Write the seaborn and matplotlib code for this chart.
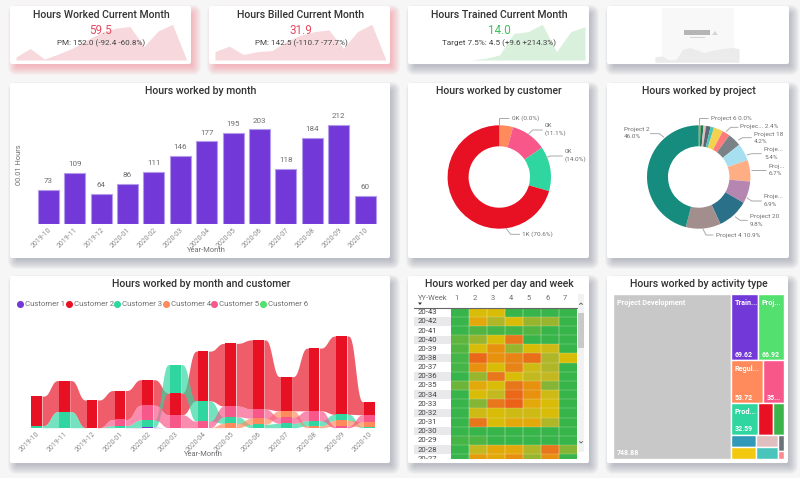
import numpy as np
import pandas as pd
import matplotlib
matplotlib.use('Agg')
import matplotlib.pyplot as plt
from matplotlib.colors import LinearSegmentedColormap
from matplotlib.patches import FancyBboxPatch, Rectangle, Polygon
import seaborn as sns

# data
months = ['2019-10', '2019-11', '2019-12', '2020-01', '2020-02', '2020-03', '2020-04',
          '2020-05', '2020-06', '2020-07', '2020-08', '2020-09', '2020-10']
hours_month = [73, 109, 64, 86, 111, 146, 177, 195, 203, 118, 184, 212, 60]

billed_spark = [58, 75, 49, 58, 61, 89, 109, 120, 125, 68, 120, 142.5, 31.9]
trained_spark = [0, 0.7, 2.1, 11.2, 11.9, 15, 3.5, 11.9, 14.0]
redacted_spark = [17, 19, 7, 9, 40, 44, 37, 29, 35, 39, 42, 45, 41]

customers = ['Customer 1', 'Customer 2', 'Customer 3', 'Customer 4', 'Customer 5', 'Customer 6']
customer_colors = ['#7239D8', '#E81123', '#2FD6A0', '#FF8B5C', '#F8578A', '#54E06F']
customer_1 = [0, 0, 0, 0, 1, 0, 0, 0, 0, 0, 0, 0, 0]
customer_2 = [68, 72, 64, 67, 59, 50, 115, 145, 160, 79, 145, 181, 30]
customer_3 = [5, 37, 0, 5, 17, 66, 47, 15, 8, 10, 12, 14, 2]
customer_4 = [0, 0, 0, 0, 0, 0, 0, 10, 14, 15, 4, 13, 12]
customer_5 = [0, 0, 0, 14, 34, 30, 15, 25, 21, 14, 23, 4, 16]
customer_6 = [0, 0, 0, 0, 0, 0, 0, 0, 0, 0, 0, 0, 0]

donut_customer_values = [4.3, 11.1, 14.0, 70.6]
donut_customer_colors = ['#FF8B5C', '#F8578A', '#2FD6A0', '#E81123']

donut_project_values = [0.6, 0.9, 0.8, 1.4, 1.1, 2.9, 2.4, 4.2, 5.4, 6.7, 6.9, 9.8, 10.9, 46.0]
donut_project_colors = ['#C8A80A', '#1A7A5A', '#DFBFBF', '#5B6670', '#4AC5BB', '#F2D24E', '#FF7B7B',
                        '#7A8288', '#A5DFF0', '#FFAD85', '#B587B0', '#2A7089', '#A38E8E', '#168C7E']

weeks = ['20-43', '20-42', '20-41', '20-40', '20-39', '20-38', '20-37', '20-36', '20-35',
         '20-34', '20-33', '20-32', '20-31', '20-30', '20-29', '20-28', '20-27']
days = ['1', '2', '3', '4', '5', '6', '7']
week_hours = [[0, 5, 5, 0, 0, 0, 0],
              [0, 6, 3.5, 5, 3, 3, 0],
              [0, 1, 0.5, 0.5, 1, 0, 0],
              [1.5, 3, 5, 8, 0, 0, 0],
              [1, 5, 7, 3, 5, 4.5, 0],
              [0.5, 9, 7, 7.5, 8.5, 3.5, 5],
              [0.5, 7, 5, 7.5, 4.5, 3.5, 0],
              [0, 3, 8, 5, 4, 4, 0],
              [2, 6, 5, 8, 7, 2.5, 0],
              [0, 5, 4, 9, 7, 4.5, 0],
              [0, 2.5, 8, 9.5, 6, 5, 0],
              [0, 4.5, 5, 4.5, 4.5, 5, 0],
              [0, 8, 5, 6, 6, 3.5, 0],
              [0, 0, 0, 0, 0, 0, 0],
              [0.5, 0.8, 0, 0, 0, 0, 0],
              [0, 4, 6, 6, 3.5, 8, 2.5],
              [0, 6.5, 6, 7, 3, 7, 0]]

tree_names = ['Project Development', 'Train...', 'Proj...', 'Regul...', '', 'Prod...', '', '', '', '', '', '', '', '']
tree_labels = ['748.88', '69.62', '66.92', '53.72', '35...', '32.59', '', '', '', '', '', '', '', '']
tree_values = [748.88, 69.62, 66.92, 53.72, 35.0, 32.59, 18.2, 13.5, 11.6, 11.4, 10.5, 10.0, 4.0, 1.8]
tree_colors = ['#C8C8C8', '#7239D8', '#54E06F', '#FF8B5C', '#F8578A', '#2FD6A0', '#E81123', '#3BB54A',
               '#3399B8', '#F2C811', '#DFBFBF', '#4AC5BB', '#6B7278', '#FD8B8F']
# treemap structure: rows of columns of item indexes, right of the big first block
tree_rows = [[[1], [2]], [[3], [4]], [[5], [6], [7]], [[8, 9], [10, 11], [12, 13]]]

W, H = 800, 478
FONT = 'Roboto'
plt.rcParams['font.family'] = FONT
TITLE = '#333333'
GREY = '#6E6E6E'
TITLE_SIZE = 7.6


def px_axes(x0, y0, x1, y1, z=2):
    a = fig.add_axes([x0 / W, 1 - y1 / H, (x1 - x0) / W, (y1 - y0) / H], zorder=z)
    a.patch.set_alpha(0)
    return a


def card(x0, y0, x1, y1, shadow='#7A8090'):
    # stacked translucent boxes stand in for the blurred shadow
    for g in np.arange(-3, 7):
        bg.add_patch(FancyBboxPatch((x0 + 4 - g, y0 + 5 - g), x1 - x0 + 2 * g, y1 - y0 + 2 * g,
                                    boxstyle='round,pad=0,rounding_size=%d' % max(g + 3, 1),
                                    fc=shadow, ec='none', alpha=0.055))
    bg.add_patch(FancyBboxPatch((x0, y0), x1 - x0, y1 - y0, boxstyle='round,pad=0,rounding_size=2',
                                fc='white', ec='none'))


def spark(x0, y0, x1, y1, values, color, bottom, top):
    a = px_axes(x0, y0, x1, y1)
    xs = np.arange(len(values))
    a.fill_between(xs, values, bottom, color=color, lw=0)
    a.set_xlim(0, len(values) - 1)
    a.set_ylim(bottom, top)
    a.axis('off')


def callout(base, pts):
    ov.plot([base + p[0] / 3 for p in pts], [75 + p[1] / 3 for p in pts], color='#AAAAAA', lw=0.7,
            solid_capstyle='butt')


def donut(cx, cy, R, values, colors, wedge=0.406):
    a = px_axes(cx - R, cy - R, cx + R, cy + R)
    a.pie(values, colors=colors, startangle=90, counterclock=False, radius=1,
          wedgeprops={'width': wedge, 'linewidth': 0})
    a.set_xlim(-1, 1)
    a.set_ylim(-1, 1)


def title(x, y, s):
    ov.text(x, y, s, ha='center', va='center', fontsize=TITLE_SIZE, color=TITLE, fontweight='medium')


fig = plt.figure(figsize=(W / 100, H / 100), dpi=100, facecolor='#F6F6F6')
sns.set_style('white')
plt.rcParams['font.family'] = FONT

bg = px_axes(0, 0, W, H, z=0)
bg.set_xlim(0, W)
bg.set_ylim(H, 0)
bg.axis('off')
ov = px_axes(0, 0, W, H, z=5)
ov.set_xlim(0, W)
ov.set_ylim(H, 0)
ov.axis('off')

for x0, x1, sh in [(10, 191, '#F2707F'), (209, 390, '#F2707F'), (408, 589, '#7A8090'), (607, 789, '#7A8090')]:
    card(x0, 6, x1, 64, sh)
for x0, x1 in [(10, 390), (408, 589), (607, 789)]:
    card(x0, 83, x1, 258)
for x0, x1 in [(10, 390), (408, 589), (607, 788)]:
    card(x0, 276, x1, 463)

# blanked out fourth card
bg.add_patch(Rectangle((662, 8), 72, 54, fc='#F8F8F8', ec='none', zorder=5))
ov.add_patch(Rectangle((684, 30), 26, 5, fc='#B5B5B5', ec='none'))
ov.add_patch(Polygon([(712, 35), (718, 35), (715, 31)], fc='#D5D5D5', ec='none'))
ov.add_patch(Rectangle((690, 37), 15, 1.2, fc='#D5D5D5', ec='none'))

# KPI row
spark(16, 24.3, 186.7, 60, hours_month, '#F7D9DD', 60, 212)
spark(215, 24.3, 386, 60, billed_spark, '#F7D9DD', 31.9, 142.5)
spark(471, 24.3, 585, 60, trained_spark, '#D9F0DC', 0, 15)
spark(655, 47.3, 739, 62.3, redacted_spark, '#EBEBEB', 0, 45)

kpis = [(101, 'Hours Worked Current Month', '59.5', 'PM: 152.0 (-92.4 -60.8%)', '#E8485F'),
        (301, 'Hours Billed Current Month', '31.9', 'PM: 142.5 (-110.7 -77.7%)', '#E8485F'),
        (499.5, 'Hours Trained Current Month', '14.0', 'Target 7.5%: 4.5 (+9.6 +214.3%)', '#3FBF5A')]
for cx, t, v, sub, col in kpis:
    title(cx, 15, t)
    ov.text(cx, 30.7, v, ha='center', va='center', fontsize=8.4, color=col)
    ov.text(cx, 43, sub, ha='center', va='center', fontsize=5.9, color='#444444')


# bars
ax = px_axes(35, 105, 378.4, 223.7)
df_month = pd.DataFrame({'month': months, 'hours': hours_month})
sns.barplot(data=df_month, x='month', y='hours', color='#7239D8', saturation=1, width=0.795,
            edgecolor='#B39DEB', linewidth=0.8, ax=ax)
ax.bar_label(ax.containers[0], padding=4, fontsize=5.8, color=GREY)
ax.set_xlim(-0.5, 12.5)
ax.set_ylim(0, 255)
sns.despine(ax=ax, left=True, bottom=True)
ax.set_yticks([])
ax.set_xlabel('')
ax.set_ylabel('')
ax.tick_params(axis='x', length=0, pad=2)
plt.setp(ax.get_xticklabels(), rotation=45, ha='right', rotation_mode='anchor', fontsize=5, color='#8A8A8A')
ov.text(19.3, 165, '00.01 Hours', rotation=90, ha='center', va='center', fontsize=5.4, color=GREY)
ov.text(206.7, 250.3, 'Year-Month', ha='center', va='center', fontsize=5.4, color=GREY)
title(201, 91.3, 'Hours worked by month')


# donuts
donut(499.3, 177, 51.7, donut_customer_values, donut_customer_colors)
title(499.3, 91.3, 'Hours worked by customer')
cust_labels = [(335, 130, '0K (0.0%)'), (435, 152, '0K'), (435, 174, '(11.1%)'), (495, 230, '0K'),
               (495, 252, '(14.0%)'), (367, 476, '1K (70.6%)')]
for zx, zy, s in cust_labels:
    ov.text(400 + zx / 3, 75 + zy / 3, s, ha='left', va='center', fontsize=4.6, color=GREY)
for pts in [[(298, 150), (298, 130), (328, 130)], [(385, 178), (398, 165), (428, 165)],
            [(435, 250), (450, 243), (488, 243)], [(318, 460), (332, 478), (360, 478)]]:
    callout(400, pts)

donut(698.7, 177, 51.7, donut_project_values, donut_project_colors)
title(698.7, 91.3, 'Hours worked by project')
proj_labels = [(332, 130, 'Project 6 0.0%'), (420, 155, 'Projec... 2.4%'), (462, 178, 'Project 18'),
               (462, 200, '4.2%'), (492, 225, 'Proje...'), (492, 247, '5.4%'), (505, 275, 'Proj...'),
               (505, 296, '6.7%'), (492, 365, 'Proje...'), (492, 387, '6.9%'), (450, 425, 'Project 20'),
               (450, 447, '9.8%'), (347, 480, 'Project 4 10.9%'), (72, 165, 'Project 2'), (72, 186, '46.0%')]
for zx, zy, s in proj_labels:
    ov.text(600 + zx / 3, 75 + zy / 3, s, ha='left', va='center', fontsize=4.6, color=GREY)
for pts in [[(296, 150), (296, 130), (325, 130)], [(378, 170), (392, 157), (415, 157)],
            [(415, 195), (428, 188), (455, 188)], [(440, 240), (455, 236), (485, 236)],
            [(452, 285), (498, 285)], [(440, 368), (455, 378), (485, 378)],
            [(405, 425), (420, 436), (443, 436)], [(308, 460), (318, 480), (340, 480)],
            [(192, 187), (178, 176), (150, 176)]]:
    callout(600, pts)


# ribbon chart, stacked by rank in each month with smallest at the bottom
ax = px_axes(22.8, 323.9, 383.3, 427.7)
series = np.array([customer_1, customer_2, customer_3, customer_4, customer_5, customer_6], dtype=float)
lower = np.zeros_like(series)
for m in range(series.shape[1]):
    run = 0
    for c in np.argsort(series[:, m], kind='stable'):
        lower[c, m] = run
        run += series[c, m]
upper = lower + series
bar_w = 0.385
for c, col in enumerate(customer_colors):
    for m in range(series.shape[1] - 1):
        if series[c, m] == 0 and series[c, m + 1] == 0:
            continue
        t = np.linspace(0, 1, 40)
        s = t * t * (3 - 2 * t)
        s = s * s * (3 - 2 * s)
        xs = m + bar_w / 2 + t * (1 - bar_w)
        ax.fill_between(xs, lower[c, m] + s * (lower[c, m + 1] - lower[c, m]),
                        upper[c, m] + s * (upper[c, m + 1] - upper[c, m]), color=col, alpha=0.68, lw=0)
    ax.bar(np.arange(series.shape[1]), series[c], bottom=lower[c], width=bar_w, color=col, lw=0, zorder=3)
ax.set_xlim(-0.5, 12.5)
ax.set_ylim(0, 240)
sns.despine(ax=ax, left=True, bottom=True)
ax.set_yticks([])
ax.set_xticks(range(len(months)), months)
ax.tick_params(axis='x', length=0, pad=2)
plt.setp(ax.get_xticklabels(), rotation=45, ha='right', rotation_mode='anchor', fontsize=5, color='#8A8A8A')
title(201, 284.3, 'Hours worked by month and customer')
ov.text(203, 455, 'Year-Month', ha='center', va='center', fontsize=5.4, color=GREY)
legend_x = [20, 68.7, 117, 165.7, 213.7, 263]
for lx, name, col in zip(legend_x, customers, customer_colors):
    ov.scatter([lx], [303.7], s=26, color=col, lw=0)
    ov.text(lx + 5, 303.7, name, ha='left', va='center', fontsize=5.6, color=GREY)


# calendar heatmap
heat_cmap = LinearSegmentedColormap.from_list('hours', [(0, '#38B54A'), (0.2, '#6DB53A'), (0.3, '#9AB52E'),
                                                        (0.4, '#C4B820'), (0.5, '#D8BC08'), (0.6, '#E3A90A'),
                                                        (0.7, '#E8920F'), (0.8, '#E8761A'), (1, '#EC5A16')])
ax = px_axes(450.7, 307.7, 577.3, 458.7)
df_week = pd.DataFrame(week_hours, index=weeks, columns=days)
sns.heatmap(df_week, cmap=heat_cmap, vmin=0, vmax=10, cbar=False, linewidths=0,
            xticklabels=False, yticklabels=False, ax=ax)
# thin light separators instead of heatmap linewidths, which snap to wide gaps
for i in range(1, 7):
    ax.axvline(i, color='#EEF2DC', lw=0.35, alpha=0.8)
for i in range(1, 17):
    ax.axhline(i, color='#EEF2DC', lw=0.3, alpha=0.6)
ax.set_ylim(16.5, 0)
lab = px_axes(414, 307.7, 450.7, 458.7)
lab.set_xlim(0, 1)
lab.set_ylim(16.5, 0)
lab.axis('off')
for i, w in enumerate(weeks):
    if i % 2 == 1:
        lab.axhspan(i + 0.04, i + 0.96, color='#E9E9EC', lw=0)
    lab.text(0.1, i + 0.5, w, ha='left', va='center', fontsize=5.6, color='#444444', clip_on=True)
for i, d in enumerate(days):
    ov.text(450.7 + 18.1 * (i + 0.33), 298.5, d, ha='center', va='center', fontsize=5.4, color=GREY)
ov.text(417.5, 298.5, 'YY-Week', ha='left', va='center', fontsize=5.4, color=GREY)
ov.add_patch(Polygon([(418, 302.5), (422, 302.5), (420, 305)], fc='#333333', ec='none'))
ov.plot([414, 577.3], [307.5, 307.5], color='#666666', lw=0.8)
ov.add_patch(Rectangle((578.3, 294), 5.7, 158, fc='#F2F2F2', ec='none'))
ov.add_patch(Rectangle((578.3, 313.3), 5.7, 35, fc='#C9C9C9', ec='none'))
ov.plot([579.5, 581, 582.5], [304.5, 303, 304.5], color='#555555', lw=0.6)
ov.plot([579.5, 581, 582.5], [441.5, 443, 441.5], color='#555555', lw=0.6)
title(499.3, 284.3, 'Hours worked per day and week')


# treemap, block sizes come from tree_values
ax = px_axes(613.3, 294, 784.3, 458.7)
ax.set_xlim(0, 1)
ax.set_ylim(1, 0)
ax.axis('off')
total = sum(tree_values)


def tree_cell(i, x, y, w, h):
    ax.add_patch(Rectangle((x, y), w, h, fc=tree_colors[i], ec='white', lw=1))
    if tree_names[i]:
        ax.text(x + 0.02, y + 0.053, tree_names[i], color='white', fontsize=5.2, fontweight='bold', ha='left', va='center')
    if tree_labels[i]:
        ax.text(x + 0.02, y + h - 0.033, tree_labels[i], color='white', fontsize=5, fontweight='bold', ha='left', va='center')


left_w = tree_values[0] / total
tree_cell(0, 0, 0, left_w, 1)
rest = total - tree_values[0]
y = 0
for row in tree_rows:
    row_sum = sum(tree_values[i] for col in row for i in col)
    row_h = row_sum / rest
    x = left_w
    for col in row:
        col_sum = sum(tree_values[i] for i in col)
        col_w = (1 - left_w) * col_sum / row_sum
        yy = y
        for i in col:
            cell_h = row_h * tree_values[i] / col_sum
            tree_cell(i, x, yy, col_w, cell_h)
            yy += cell_h
        x += col_w
    y += row_h
title(698.7, 284.3, 'Hours worked by activity type')

fig.savefig('out.png', dpi=100, facecolor=fig.get_facecolor())
